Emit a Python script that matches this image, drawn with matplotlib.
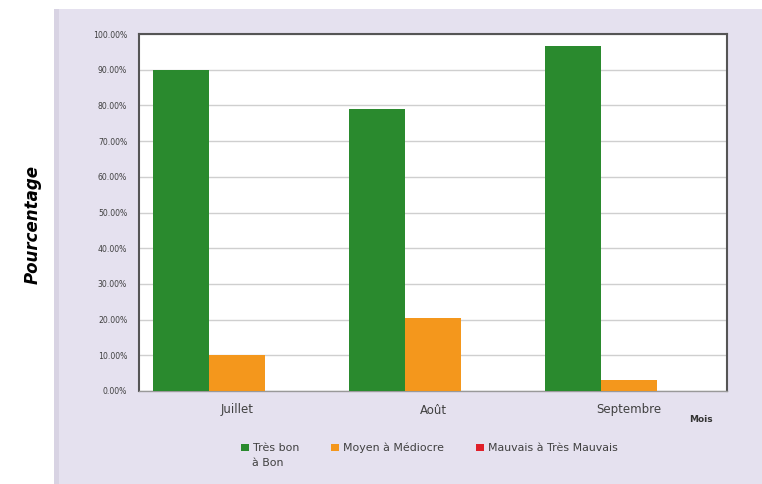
import matplotlib
matplotlib.use("Agg")
import matplotlib.pyplot as plt
import numpy as np
from matplotlib.patches import Rectangle, Patch
from matplotlib.ticker import FuncFormatter

months = ["Juillet", "Août", "Septembre"]
series_names = ["Très bon", "Moyen à Médiocre", "Mauvais à Très Mauvais"]
tres_bon = [0.90, 0.79, 0.965]
moyen = [0.10, 0.205, 0.032]
mauvais = [0.0, 0.0, 0.0]
colors = ["#2a8a2e", "#f4971c", "#e0202a"]

fig = plt.figure(figsize=(7.62, 4.84), dpi=100)
fig.patch.set_facecolor("white")

# lavender panel behind the chart
fig.patches.append(Rectangle((54 / 762, 0), 1 - 54 / 762, 1 - 9 / 484,
                             transform=fig.transFigure, facecolor="#e5e1ef",
                             edgecolor="none", zorder=-10))
fig.patches.append(Rectangle((54 / 762, 0), 5 / 762, 1 - 9 / 484,
                             transform=fig.transFigure, facecolor="#d8d3e3",
                             edgecolor="none", zorder=-9))

ax = fig.add_axes([139 / 762, 1 - 391 / 484, (727 - 139) / 762, (391 - 34) / 484])
ax.set_zorder(1)
ax.set_facecolor("white")

x = np.arange(len(months))
w = 0.286
for i, (vals, c, name) in enumerate(zip([tres_bon, moyen, mauvais], colors, series_names)):
    ax.bar(x + (i - 1) * w, vals, width=w, color=c, zorder=3, label=name)

ax.set_xlim(-0.5, len(months) - 0.5)
ax.set_ylim(0, 1.0)
ax.set_yticks(np.arange(0, 1.01, 0.1))
ax.yaxis.set_major_formatter(FuncFormatter(lambda v, p: f"{v * 100:.2f}%"))
ax.grid(axis="y", color="#cfcfcf", linewidth=1.0, zorder=0)
ax.set_xticks(x)
ax.set_xticklabels(months, fontsize=8.5, color="#404040")
ax.tick_params(axis="y", labelsize=5.6, labelcolor="#404040", length=0, pad=8.5)
ax.tick_params(axis="x", length=0, pad=9)
for s in ["left", "top", "right"]:
    ax.spines[s].set_color("#555555")
    ax.spines[s].set_linewidth(1.5)
ax.spines["bottom"].set_color("#999999")
ax.spines["bottom"].set_linewidth(1.0)

fig.text(33 / 762, 1 - 225 / 484, "Pourcentage", rotation=90, ha="center", va="center",
         fontsize=12, fontweight="bold", style="italic",
         family=["Liberation Sans Narrow", "DejaVu Sans"], color="black")
fig.text(701 / 762, 1 - 419 / 484, "Mois", ha="center", va="center",
         fontsize=6.5, fontweight="bold", color="#333333")

handles = [Patch(facecolor=c, edgecolor="none") for c in colors]
leg = fig.legend(handles, series_names, loc="center left", ncol=3,
                 bbox_to_anchor=(231 / 762, 1 - 448 / 484), frameon=False,
                 fontsize=7.9, handlelength=0.7, handleheight=0.7, handletextpad=0.4,
                 columnspacing=2.9, labelcolor="#404040")
# second line of the first legend label
fig.text(252 / 762, 1 - 463 / 484, "à Bon", ha="left", va="center",
         fontsize=7.9, color="#404040")

fig.savefig("out.png", dpi=100, facecolor="white")
